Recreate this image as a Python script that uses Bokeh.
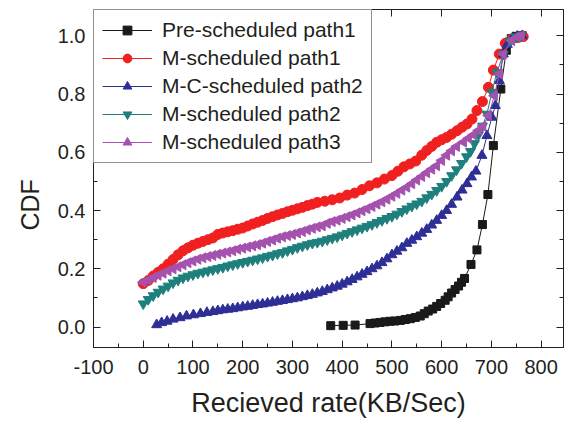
from bokeh.plotting import figure
from bokeh.models import Range1d, FixedTicker, PrintfTickFormatter, LinearAxis, CustomJSTickFormatter, Legend, LegendItem, Title
from bokeh.embed import file_html
from bokeh.resources import INLINE
import math

# ---- data ----
pre1_x = [377, 402, 426, 456, 466, 476, 486, 496, 506, 517, 527, 537, 547, 557, 565, 573, 582, 590, 598, 607,
          613, 620, 627, 634, 640, 646, 659, 671, 682, 693, 704, 719, 730, 740, 750, 762]
pre1_y = [0.005, 0.006, 0.007, 0.012, 0.014, 0.016, 0.018, 0.020, 0.021, 0.023, 0.026, 0.029, 0.033, 0.038, 0.046,
          0.055, 0.062, 0.071, 0.081, 0.092, 0.104, 0.117, 0.129, 0.141, 0.154, 0.167, 0.215, 0.265, 0.352, 0.455,
          0.623, 0.817, 0.950, 0.990, 0.998, 1.000]

m1_x = [0, 10, 20, 30, 40, 50, 60, 70, 80, 90, 100, 110, 120, 130, 140, 150, 160, 170, 180, 190, 200, 210, 220,
        230, 240, 250, 260, 270, 280, 290, 300, 310, 320, 330, 340, 350, 365, 380, 395, 410, 425, 440, 455, 470,
        485, 500, 512, 524, 536, 548, 560, 570, 580, 590, 600, 610, 620, 631, 641, 651, 661, 671, 682, 694, 704,
        716, 728, 741, 754, 764]
m1_y = [0.149, 0.160, 0.175, 0.188, 0.200, 0.216, 0.232, 0.248, 0.262, 0.272, 0.281, 0.288, 0.294, 0.300, 0.306,
        0.318, 0.323, 0.327, 0.331, 0.336, 0.340, 0.347, 0.354, 0.360, 0.366, 0.373, 0.379, 0.385, 0.390, 0.396,
        0.401, 0.406, 0.411, 0.417, 0.422, 0.428, 0.432, 0.437, 0.443, 0.453, 0.460, 0.472, 0.485, 0.495, 0.508,
        0.520, 0.535, 0.550, 0.560, 0.570, 0.590, 0.606, 0.620, 0.634, 0.643, 0.651, 0.662, 0.674, 0.686, 0.697,
        0.714, 0.743, 0.774, 0.823, 0.882, 0.937, 0.974, 0.989, 0.994, 0.997]

mc2_x = [27, 37, 48, 60, 74, 87, 101, 115, 128, 140, 150, 160, 170, 180, 190, 200, 210, 220, 230, 240, 250, 260,
         270, 280, 290, 300, 310, 320, 330, 340, 350, 360, 370, 380, 390, 400, 410, 420, 430, 440, 450, 460, 470,
         480, 490, 500, 510, 520, 530, 540, 550, 560, 570, 580, 590, 600, 610, 620, 631, 641, 651, 660, 669, 681,
         691, 701, 708, 716, 724, 732, 742, 752, 762]
mc2_y = [0.008, 0.015, 0.020, 0.027, 0.032, 0.038, 0.042, 0.046, 0.050, 0.053, 0.056, 0.059, 0.061, 0.063, 0.066,
         0.069, 0.071, 0.074, 0.077, 0.079, 0.082, 0.085, 0.088, 0.091, 0.094, 0.097, 0.100, 0.104, 0.108, 0.112,
         0.117, 0.122, 0.128, 0.134, 0.140, 0.147, 0.155, 0.163, 0.172, 0.181, 0.190, 0.200, 0.210, 0.221, 0.234,
         0.248, 0.260, 0.272, 0.287, 0.298, 0.310, 0.322, 0.335, 0.350, 0.366, 0.383, 0.400, 0.421, 0.446, 0.470,
         0.492, 0.515, 0.535, 0.589, 0.657, 0.720, 0.760, 0.846, 0.937, 0.970, 0.990, 0.998, 1.000]

m2_x = [0, 10, 20, 30, 40, 50, 60, 70, 80, 90, 100, 110, 120, 130, 140, 150, 160, 170, 180, 190, 200, 210, 220,
        230, 240, 250, 260, 270, 280, 290, 300, 310, 320, 330, 340, 350, 360, 370, 380, 390, 400, 410, 420, 430,
        440, 450, 460, 470, 480, 490, 500, 510, 520, 530, 540, 550, 560, 570, 580, 590, 600, 610, 620, 630, 640,
        650, 658, 666, 674, 682, 691, 701, 711, 724, 738, 750, 760]
m2_y = [0.080, 0.095, 0.108, 0.120, 0.131, 0.141, 0.152, 0.161, 0.169, 0.175, 0.180, 0.185, 0.189, 0.193, 0.197,
        0.201, 0.205, 0.210, 0.214, 0.218, 0.222, 0.226, 0.230, 0.234, 0.238, 0.243, 0.247, 0.252, 0.256, 0.262,
        0.267, 0.273, 0.278, 0.283, 0.288, 0.291, 0.295, 0.300, 0.305, 0.310, 0.316, 0.322, 0.328, 0.334, 0.340,
        0.346, 0.352, 0.359, 0.366, 0.373, 0.380, 0.388, 0.397, 0.406, 0.415, 0.423, 0.432, 0.444, 0.456, 0.469,
        0.483, 0.500, 0.520, 0.540, 0.562, 0.585, 0.603, 0.630, 0.660, 0.690, 0.731, 0.806, 0.874, 0.937, 0.983,
        0.996, 1.000]

m3_x = [0, 10, 20, 30, 40, 50, 60, 70, 80, 90, 100, 110, 120, 130, 140, 150, 160, 170, 180, 190, 200, 210, 220,
        230, 240, 250, 260, 270, 280, 290, 300, 310, 320, 330, 340, 350, 360, 370, 380, 390, 400, 410, 420, 430,
        440, 450, 460, 470, 480, 490, 500, 510, 520, 530, 540, 550, 560, 570, 580, 590, 600, 610, 620, 630, 644,
        654, 664, 674, 683, 694, 706, 716, 724, 741, 752, 760]
m3_y = [0.154, 0.162, 0.170, 0.178, 0.185, 0.193, 0.200, 0.207, 0.214, 0.221, 0.227, 0.233, 0.238, 0.242, 0.246,
        0.250, 0.254, 0.258, 0.262, 0.267, 0.271, 0.275, 0.279, 0.283, 0.288, 0.294, 0.299, 0.305, 0.310, 0.314,
        0.318, 0.323, 0.328, 0.334, 0.339, 0.344, 0.348, 0.356, 0.362, 0.367, 0.373, 0.379, 0.385, 0.392, 0.399,
        0.406, 0.414, 0.422, 0.430, 0.439, 0.449, 0.459, 0.470, 0.480, 0.492, 0.505, 0.517, 0.530, 0.542, 0.554,
        0.572, 0.590, 0.605, 0.620, 0.635, 0.648, 0.660, 0.675, 0.690, 0.726, 0.794, 0.869, 0.937, 0.983, 0.996,
        1.000]

series_names = ["Pre-scheduled path1", "M-scheduled path1", "M-C-scheduled path2",
                "M-scheduled path2", "M-scheduled path3"]

x_major = [-100, 0, 100, 200, 300, 400, 500, 600, 700, 800]
x_minor = [-50, 50, 150, 250, 350, 450, 550, 650, 750]
y_major = [0.0, 0.2, 0.4, 0.6, 0.8, 1.0]
y_minor = [0.1, 0.3, 0.5, 0.7, 0.9]

FONT = "Liberation Sans"
TXT = "#231f20"

p = figure(width=568, height=429, output_backend="svg", toolbar_location=None,
           x_range=Range1d(-100, 845), y_range=Range1d(-0.07, 1.09),
           min_border_left=93, min_border_right=5, min_border_top=9, min_border_bottom=82)
p.grid.visible = False
p.outline_line_color = "#231f20"
p.outline_line_width = 1
p.background_fill_color = "white"
p.border_fill_color = "white"

def style_axis(ax):
    ax.axis_line_color = "#231f20"
    ax.major_tick_line_color = "#231f20"
    ax.minor_tick_line_color = "#231f20"
    ax.major_tick_in = 7
    ax.major_tick_out = 0
    ax.minor_tick_in = 4
    ax.minor_tick_out = 0
    ax.major_label_text_font = FONT
    ax.major_label_text_color = TXT
    ax.major_label_text_font_size = "20px"
    ax.axis_label_text_font = FONT
    ax.axis_label_text_color = TXT
    ax.axis_label_text_font_style = "normal"
    ax.axis_label_text_font_size = "27px"

xa = p.xaxis[0]
xa.ticker = FixedTicker(ticks=x_major, minor_ticks=x_minor)
xa.major_label_overrides = {t: str(t) for t in x_major}
xa.axis_label = "Recieved rate(KB/Sec)"
style_axis(xa)
xa.major_label_standoff = 12
xa.axis_label_standoff = 11

ya = p.yaxis[0]
ya.ticker = FixedTicker(ticks=y_major, minor_ticks=y_minor)
ya.formatter = PrintfTickFormatter(format="%.1f")
style_axis(ya)
ya.major_label_standoff = 8

blank = CustomJSTickFormatter(code="return ''")
top = LinearAxis(ticker=FixedTicker(ticks=x_major), formatter=blank)
style_axis(top)
p.add_layout(top, "above")
right = LinearAxis(ticker=FixedTicker(ticks=y_major, minor_ticks=y_minor), formatter=blank)
style_axis(right)
p.add_layout(right, "right")

# y-axis title, placed slightly below the frame centre as in the reference
p.add_layout(Title(text="CDF", align="left", offset=117, text_font=FONT, text_font_size="25px",
                   text_font_style="normal", text_color=TXT, standoff=21), "left")

specs = [
    (pre1_x, pre1_y, "#1a1a1a", "square", 8, 0.0),
    (m1_x, m1_y, "#f02020", "circle", 10, 0.0),
    (mc2_x, mc2_y, "#2e2e96", "triangle", 10, 0.0),
    (m2_x, m2_y, "#1e7f7c", "inverted_triangle", 10, 0.0),
    (m3_x, m3_y, "#a452ad", "triangle", 10, math.pi / 2),
]

items = []
for (xs, ys, col, mk, sz, ang), name in zip(specs, series_names):
    ln = p.line(xs, ys, line_color=col, line_width=1)
    sc = p.scatter(xs, ys, marker=mk, size=sz, angle=ang, fill_color=col, line_color=col)
    items.append(LegendItem(label=name, renderers=[ln, sc]))

legend = Legend(items=items, location="top_left")
legend.margin = 0
legend.padding = 8
legend.spacing = 4
legend.label_height = 22
legend.glyph_height = 22
legend.glyph_width = 50
legend.label_standoff = 10
legend.label_text_font = FONT
legend.label_text_font_size = "21px"
legend.label_text_color = TXT
legend.border_line_color = "#231f20"
legend.border_line_width = 1
legend.background_fill_color = "white"
legend.background_fill_alpha = 1.0
p.add_layout(legend, "center")

open("out.html", "w").write(file_html(p, INLINE))
